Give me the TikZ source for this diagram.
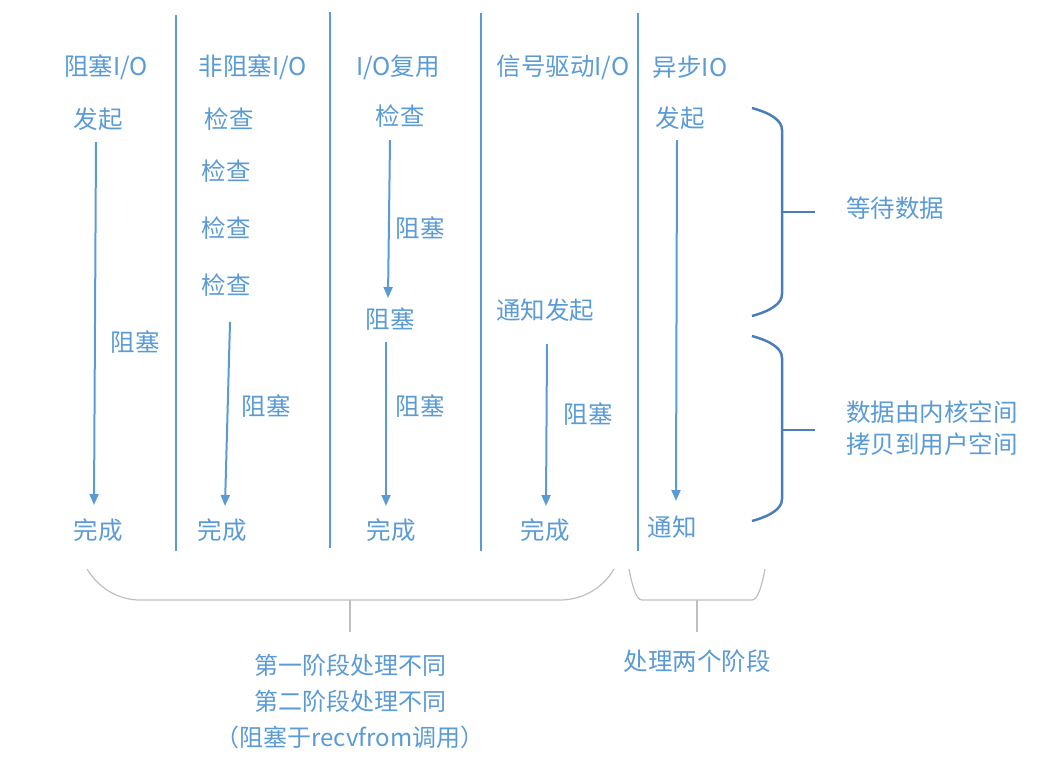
\documentclass[tikz,border=0pt]{standalone}
\usepackage{fontspec}
\setmainfont{Noto Sans CJK SC}
\usetikzlibrary{arrows.meta}
\definecolor{txt}{HTML}{5B9BD5}
\definecolor{brc}{HTML}{4A7EBB}
\definecolor{gry}{HTML}{BFBFBF}
\tikzset{
  lbl/.style={text=txt,font=\fontsize{24.5}{28}\selectfont,inner sep=0pt},
  sep/.style={draw=txt,line width=2pt},
  arr/.style={draw=txt,line width=2pt,-{Triangle[length=11pt,width=9pt]}},
  rbrace/.style={draw=brc,line width=2.5pt},
  bbrace/.style={draw=gry,line width=1.2pt}
}
\begin{document}
\begin{tikzpicture}[x=1pt,y=-1pt]
\useasboundingbox (0,0) rectangle (1052,780);
% separators
\coordinate (s1t) at (176,15); \coordinate (s1b) at (176,551);
\coordinate (s2t) at (330,12); \coordinate (s2b) at (330,548);
\coordinate (s3t) at (481,13); \coordinate (s3b) at (481,551);
\coordinate (s4t) at (638,13); \coordinate (s4b) at (638,551);
\draw[sep] (s1t) -- (s1b);
\draw[sep] (s2t) -- (s2b);
\draw[sep] (s3t) -- (s3b);
\draw[sep] (s4t) -- (s4b);
% column 1
\node[lbl] (h1) at (106,67) {阻塞I/O};
\node[lbl] (a1) at (98,119) {发起};
\node[lbl] (b1) at (135,342) {阻塞};
\node[lbl] (c1) at (98,530) {完成};
\coordinate (a1s) at (96,142); \coordinate (a1e) at (94,505);
\draw[arr] (a1s) -- (a1e);
% column 2
\node[lbl] (h2) at (253,67) {非阻塞I/O};
\node[lbl] (k1) at (229,119) {检查};
\node[lbl] (k2) at (226,171) {检查};
\node[lbl] (k3) at (226,228) {检查};
\node[lbl] (k4) at (226,285) {检查};
\node[lbl] (b2) at (266,406) {阻塞};
\node[lbl] (c2) at (222,530) {完成};
\coordinate (a2s) at (230,322); \coordinate (a2e) at (225,506);
\draw[arr] (a2s) -- (a2e);
% column 3
\node[lbl] (h3) at (398,67) {I/O复用};
\node[lbl] (k5) at (400,116) {检查};
\node[lbl] (b3) at (420,228) {阻塞};
\node[lbl] (m3) at (390,319) {阻塞};
\node[lbl] (b4) at (420,406) {阻塞};
\node[lbl] (c3) at (391,530) {完成};
\coordinate (a3s) at (390,140); \coordinate (a3e) at (388,298);
\coordinate (a4s) at (386,342); \coordinate (a4e) at (386,506);
\draw[arr] (a3s) -- (a3e);
\draw[arr] (a4s) -- (a4e);
% column 4
\node[lbl] (h4) at (563,67) {信号驱动I/O};
\node[lbl] (n4) at (545,310) {通知发起};
\node[lbl] (b5) at (588,414) {阻塞};
\node[lbl] (c4) at (545,530) {完成};
\coordinate (a5s) at (547,344); \coordinate (a5e) at (546,506);
\draw[arr] (a5s) -- (a5e);
% column 5
\node[lbl] (h5) at (690,67) {异步IO};
\node[lbl] (a6) at (680,118) {发起};
\node[lbl] (n5) at (672,527) {通知};
\coordinate (a6s) at (677,140); \coordinate (a6e) at (676,501);
\draw[arr] (a6s) -- (a6e);
% right braces
\coordinate (r1) at (752,108); \coordinate (r1m) at (782,212); \coordinate (r1b) at (752,316);
\draw[rbrace] (r1) .. controls (770,113) and (782,120) .. (782,130) -- (782,294) .. controls (782,304) and (770,311) .. (r1b);
\coordinate (t1) at (815,212);
\draw[rbrace] (r1m) -- (t1);
\node[lbl,anchor=west] (w1) at (846,208) {等待数据};
\coordinate (r2) at (752,336); \coordinate (r2m) at (782,430); \coordinate (r2b) at (752,521);
\draw[rbrace] (r2) .. controls (770,341) and (782,348) .. (782,358) -- (782,499) .. controls (782,509) and (770,516) .. (r2b);
\coordinate (t2) at (815,430);
\draw[rbrace] (r2m) -- (t2);
\node[lbl,anchor=west,align=left,font=\fontsize{24.5}{32}\selectfont] (w2) at (846,428) {数据由内核空间\\拷贝到用户空间};
% bottom braces
\coordinate (q1) at (87,569); \coordinate (q1b) at (350,600); \coordinate (q1e) at (614,569);
\draw[bbrace] (q1) .. controls (100,590) and (120,600) .. (140,600) -- (560,600) .. controls (580,600) and (602,590) .. (q1e);
\coordinate (q1t) at (350,632);
\draw[bbrace] (q1b) -- (q1t);
\node[lbl,align=center,font=\fontsize{24}{36}\selectfont] (g1) at (350,701) {第一阶段处理不同\\第二阶段处理不同\\（阻塞于recvfrom调用）};
\coordinate (q2) at (629,569); \coordinate (q2b) at (697,600); \coordinate (q2e) at (765,569);
\draw[bbrace] (q2) .. controls (632,585) and (636,600) .. (642,600) -- (752,600) .. controls (758,600) and (762,585) .. (q2e);
\coordinate (q2t) at (697,632);
\draw[bbrace] (q2b) -- (q2t);
\node[lbl] (g2) at (697,661) {处理两个阶段};
\end{tikzpicture}
\end{document}
